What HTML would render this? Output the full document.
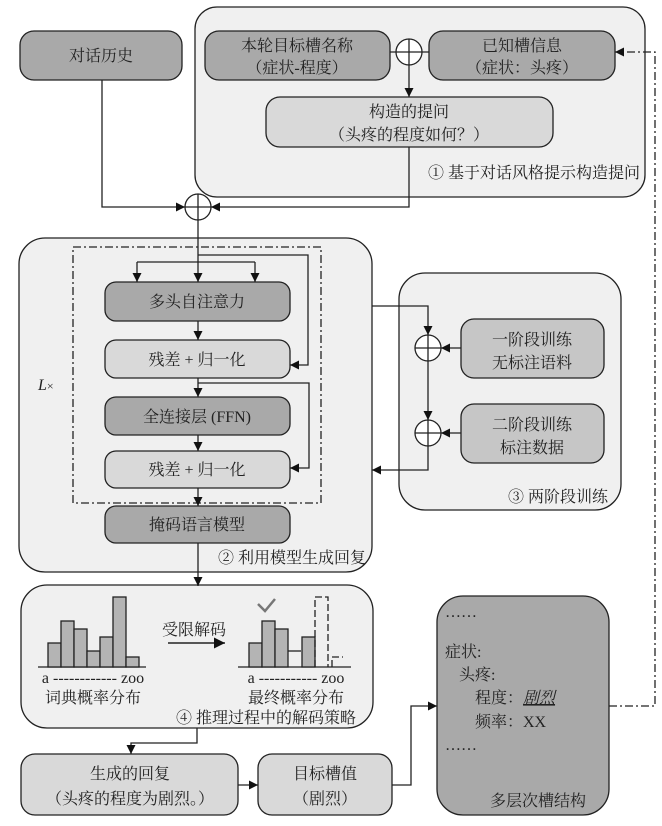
<!DOCTYPE html>
<html><head><meta charset="utf-8"><style>
html,body{margin:0;padding:0;background:#fff}
svg{display:block}
text{font-family:"Liberation Serif","Noto Serif CJK SC","Noto Sans CJK SC",serif;fill:#222;font-size:16px}
</style></head><body>
<svg width="662" height="826" viewBox="0 0 662 826" xmlns="http://www.w3.org/2000/svg">
<defs>
<marker id="a" viewBox="0 0 10 10" refX="10" refY="5" markerWidth="7" markerHeight="7" orient="auto"><path d="M0,0L10,5L0,10z" fill="#111"/></marker>
</defs>
<g stroke="#222" stroke-width="1.3">
<rect x="195" y="7" width="450" height="190" rx="22" fill="#f0f0f0"/>
<rect x="19" y="238" width="353" height="334" rx="26" fill="#f0f0f0"/>
<rect x="399" y="273" width="222" height="237" rx="26" fill="#f0f0f0"/>
<rect x="21" y="585" width="352" height="143" rx="26" fill="#f0f0f0"/>
<rect x="20" y="31" width="162" height="49" rx="14" fill="#a9a9a9"/>
<rect x="205" y="31" width="185" height="49" rx="14" fill="#a9a9a9"/>
<rect x="429" y="31" width="186" height="49" rx="14" fill="#a9a9a9"/>
<rect x="266" y="97" width="287" height="50" rx="14" fill="#d9d9d9"/>
<rect x="73" y="247" width="248" height="256" fill="none" stroke-dasharray="8,3,2,3"/>
<rect x="105" y="282" width="185" height="39" rx="11" fill="#a9a9a9"/>
<rect x="105" y="340" width="185" height="38" rx="11" fill="#d9d9d9"/>
<rect x="105" y="397" width="185" height="38" rx="11" fill="#a9a9a9"/>
<rect x="105" y="451" width="185" height="37" rx="11" fill="#d9d9d9"/>
<rect x="105" y="506" width="185" height="37" rx="11" fill="#a9a9a9"/>
<rect x="461" y="319" width="143" height="59" rx="13" fill="#c6c6c6"/>
<rect x="461" y="404" width="143" height="59" rx="13" fill="#c6c6c6"/>
<rect x="21" y="754" width="217" height="61" rx="14" fill="#d9d9d9"/>
<rect x="258" y="754" width="134" height="61" rx="14" fill="#d9d9d9"/>
<rect x="437" y="596" width="172" height="219" rx="26" fill="#a9a9a9"/>
<g fill="#fff">
<circle cx="409" cy="52" r="13"/><circle cx="198" cy="207" r="13"/>
<circle cx="428" cy="348" r="13"/><circle cx="428" cy="433" r="13"/>
</g>
<path d="M396 52H422M409 39V65M185 207H211M198 194V220M415 348H441M428 335V361M415 433H441M428 420V446" fill="none"/>
<g fill="none">
<path d="M390 52H396M422 52H429"/>
<path d="M409 65V97" marker-end="url(#a)"/>
<path d="M102 80V207H185" marker-end="url(#a)"/>
<path d="M409 147V207H211" marker-end="url(#a)"/>
<path d="M198 220V282" marker-end="url(#a)"/>
<path d="M137 262H255"/>
<path d="M137 262V282" marker-end="url(#a)"/>
<path d="M255 262V282" marker-end="url(#a)"/>
<path d="M198 255H308V365H290" marker-end="url(#a)"/>
<path d="M198 321V340" marker-end="url(#a)"/>
<path d="M198 378V397" marker-end="url(#a)"/>
<path d="M198 383H309V468H290" marker-end="url(#a)"/>
<path d="M198 435V451" marker-end="url(#a)"/>
<path d="M198 488V506" marker-end="url(#a)"/>
<path d="M198 543V586" marker-end="url(#a)"/>
<path d="M372 306H428V335" marker-end="url(#a)"/>
<path d="M428 361V420" marker-end="url(#a)"/>
<path d="M428 446V470H372" marker-end="url(#a)"/>
<path d="M461 348H441" marker-end="url(#a)"/>
<path d="M461 433H441" marker-end="url(#a)"/>
<path d="M197 728V743H131V754" marker-end="url(#a)"/>
<path d="M238 785H258" marker-end="url(#a)"/>
<path d="M392 785H411V706H437" marker-end="url(#a)"/>
<path d="M609 706H655V52H615" stroke-dasharray="8,3,2,3" marker-end="url(#a)"/>
<path d="M38 667H146M238 667H351"/>
</g>
<g fill="#b4b4b4">
<rect x="48" y="643" width="13" height="24"/><rect x="61" y="621" width="13" height="46"/>
<rect x="74" y="629" width="13" height="38"/><rect x="87" y="651" width="13" height="16"/>
<rect x="100" y="637" width="13" height="30"/><rect x="113" y="597" width="13" height="70"/>
<rect x="126" y="657" width="13" height="10"/>
<rect x="249" y="643" width="13" height="24"/><rect x="262" y="621" width="13" height="46"/>
<rect x="275" y="629" width="13" height="38"/><rect x="302" y="637" width="13" height="30"/>
</g>
<path d="M288 651H301" fill="none"/>
<path d="M315 667V597H328V667M332 667V657H343" fill="none" stroke-dasharray="7,3"/>
<path d="M258 604L265 611L275 599" fill="none" stroke="#777" stroke-width="2.5"/>
<path d="M168 643H225" fill="none" stroke-width="1.6" marker-end="url(#a)"/>
</g>
<g text-anchor="middle">
<text x="101" y="61">对话历史</text>
<text x="297" y="51">本轮目标槽名称</text>
<text x="297" y="73">（症状-程度）</text>
<text x="522" y="51">已知槽信息</text>
<text x="522" y="73">（症状：头疼）</text>
<text x="409" y="117">构造的提问</text>
<text x="409" y="140">（头疼的程度如何？）</text>
<text x="197" y="307">多头自注意力</text>
<text x="197" y="365">残差 + 归一化</text>
<text x="197" y="422">全连接层 (FFN)</text>
<text x="197" y="475">残差 + 归一化</text>
<text x="197" y="530">掩码语言模型</text>
<text x="532" y="345">一阶段训练</text>
<text x="532" y="368">无标注语料</text>
<text x="532" y="430">二阶段训练</text>
<text x="532" y="453">标注数据</text>
<text x="93" y="683">a ------------ zoo</text>
<text x="93" y="703">词典概率分布</text>
<text x="296" y="683">a ----------- zoo</text>
<text x="296" y="703">最终概率分布</text>
<text x="194" y="635">受限解码</text>
<text x="130" y="779">生成的回复</text>
<text x="130" y="804">（头疼的程度为剧烈。）</text>
<text x="325" y="779">目标槽值</text>
<text x="325" y="804">（剧烈）</text>
<text x="538" y="806">多层次槽结构</text>
</g>
<g text-anchor="end">
<text x="640" y="178">① 基于对话风格提示构造提问</text>
<text x="366" y="563">② 利用模型生成回复</text>
<text x="608" y="502">③ 两阶段训练</text>
<text x="356" y="723">④ 推理过程中的解码策略</text>
</g>
<text x="38" y="390" font-style="italic">L<tspan font-style="normal" font-size="12">×</tspan></text>
<text x="445" y="617">……</text>
<text x="445" y="657">症状:</text>
<text x="459" y="680">头疼:</text>
<text x="475" y="703">程度：<tspan font-style="italic" text-decoration="underline">剧烈</tspan></text>
<text x="475" y="727">频率：XX</text>
<text x="445" y="750">……</text>
</svg>
</body></html>
